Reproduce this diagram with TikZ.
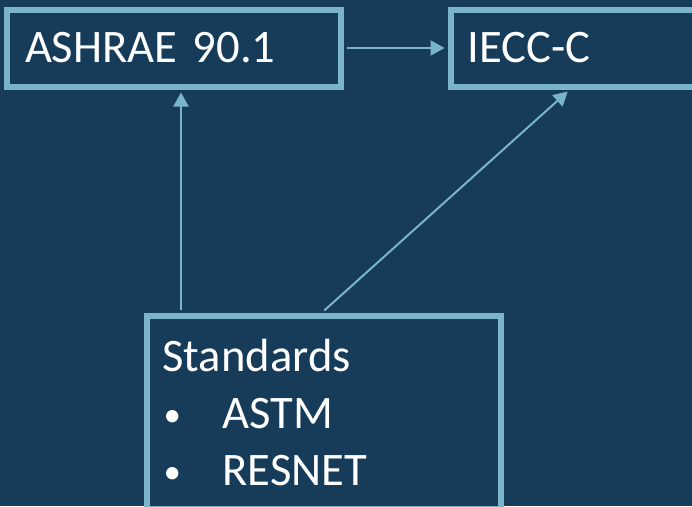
\documentclass[tikz,border=0pt]{standalone}
\usepackage{fontspec}
\setmainfont{Carlito}
\usepackage{xcolor}
\usepackage{tikz}
\usetikzlibrary{arrows.meta,positioning}
\definecolor{cBg}{RGB}{23,60,90}
\definecolor{cLine}{RGB}{122,180,204}
\tikzset{
  box/.style={draw=cLine, line width=6pt, fill=cBg, text=white, align=left,
              anchor=north west, font=\fontsize{46.6}{57}\selectfont},
  arr/.style={-{Triangle[length=14pt,width=15pt]}, draw=cLine, line width=2pt},
}
\newcommand{\itembul}{\makebox[60pt][l]{\hspace{1pt}\raisebox{2pt}{\scalebox{0.75}{\textbullet}}}}

\begin{document}
\begin{tikzpicture}[x=1pt,y=-1pt]
  \fill[cBg] (0,0) rectangle (692,506);
  \useasboundingbox (0,0) rectangle (692,506);
  \clip (0,0) rectangle (692,506);
  \node[box, minimum width=334pt, minimum height=77pt, text width=298pt, inner xsep=18pt]
    (ashrae) at (4,6.5) {ASHRAE 90.1};
  \node[box, minimum width=320pt, minimum height=77pt, text width=286pt, inner xsep=17pt]
    (iecc) at (447.5,6.5) {IECC-C};
  \node[box, minimum width=354pt, minimum height=193pt, text width=322pt, inner xsep=16pt]
    (std) at (143.5,312.5) {Standards\\
      \itembul ASTM\\
      \itembul RESNET};
  \draw[arr, shorten <=3pt, shorten >=3pt] (ashrae.east) -- (iecc.west);
  \draw[arr, shorten <=3pt, shorten >=3pt] ([xshift=37.5pt]std.north west) -- ([xshift=177pt]ashrae.south west);
  \draw[arr, shorten <=3pt, shorten >=3pt] ([xshift=178.5pt]std.north west) -- ([xshift=122.5pt]iecc.south west);
\end{tikzpicture}
\end{document}
